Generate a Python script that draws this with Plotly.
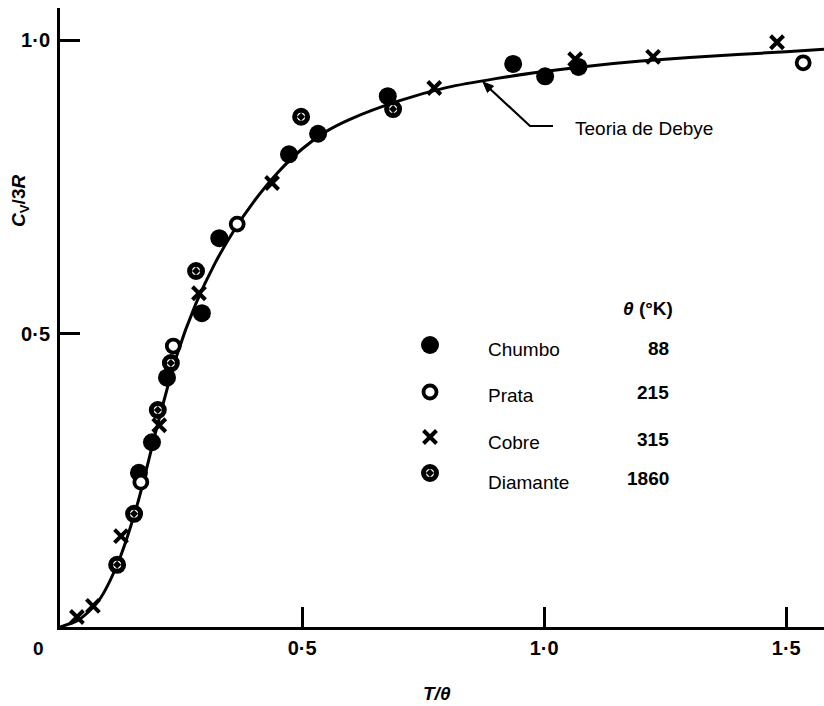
import plotly.graph_objects as go

# ---- data ----
curve_x = [0, 0.04, 0.08, 0.12, 0.16, 0.2, 0.24, 0.28, 0.32, 0.36, 0.4, 0.45, 0.5, 0.55,
           0.6, 0.7, 0.8, 0.9, 1.0, 1.1, 1.2, 1.3, 1.4, 1.5, 1.578]
curve_y = [0, 0.013, 0.045, 0.11, 0.21, 0.34, 0.46, 0.55, 0.62, 0.677, 0.725, 0.775, 0.815, 0.845,
           0.866, 0.897, 0.92, 0.935, 0.947, 0.957, 0.965, 0.971, 0.976, 0.981, 0.985]

chumbo_x = [0.163, 0.190, 0.221, 0.293, 0.329, 0.473, 0.533, 0.677, 0.936, 1.002, 1.071]
chumbo_y = [0.263, 0.315, 0.425, 0.535, 0.663, 0.806, 0.841, 0.905, 0.960, 0.939, 0.955]

prata_x = [0.167, 0.234, 0.366, 1.535]
prata_y = [0.247, 0.479, 0.687, 0.962]

cobre_x = [0.035, 0.068, 0.126, 0.205, 0.287, 0.438, 0.773, 1.064, 1.225, 1.481]
cobre_y = [0.017, 0.036, 0.155, 0.344, 0.569, 0.757, 0.919, 0.968, 0.972, 0.997]

diamante_x = [0.118, 0.153, 0.202, 0.229, 0.281, 0.498, 0.688]
diamante_y = [0.106, 0.193, 0.370, 0.450, 0.607, 0.870, 0.883]

x_ticks = [0.5, 1.0, 1.5]
x_tick_text = ["0·5", "1·0", "1·5"]
y_ticks = [0.5, 1.0]
y_tick_text = ["0·5", "1·0"]

legend_names = ["Chumbo", "Prata", "Cobre", "Diamante"]
legend_theta = ["88", "215", "315", "1860"]

FONT = "Liberation Sans, Arial, sans-serif"

fig = go.Figure()

fig.add_trace(go.Scatter(x=curve_x, y=curve_y, mode="lines",
                         line=dict(color="black", width=3, shape="spline", smoothing=0.8),
                         hoverinfo="skip", showlegend=False, cliponaxis=False))

# styles
st_chumbo = dict(symbol="circle", size=18, color="black", line=dict(width=0))
st_prata = dict(symbol="circle", size=13, color="white", line=dict(color="black", width=3.8))
st_cobre = dict(symbol="x-thin", size=13, color="black", line=dict(color="black", width=4))
st_diam = dict(symbol="circle-dot", size=13, color="white", line=dict(color="black", width=5))

for xs, ys, st in [(chumbo_x, chumbo_y, st_chumbo), (prata_x, prata_y, st_prata),
                   (cobre_x, cobre_y, st_cobre), (diamante_x, diamante_y, st_diam)]:
    fig.add_trace(go.Scatter(x=xs, y=ys, mode="markers", marker=st,
                             showlegend=False, cliponaxis=False))

# legend in a pixel-aligned overlay axis
leg_sym_x = 430
leg_row_y = [345, 392, 437, 473]
leg_text_y = [349, 395, 442, 482]
leg_val_y = [348, 392, 439, 478]
for st, yy in zip([st_chumbo, st_prata, st_cobre, st_diam], leg_row_y):
    fig.add_trace(go.Scatter(x=[leg_sym_x], y=[yy], mode="markers", marker=st,
                             xaxis="x2", yaxis="y2", showlegend=False, cliponaxis=False,
                             hoverinfo="skip"))

annots = []
for name, val, ty, vy in zip(legend_names, legend_theta, leg_text_y, leg_val_y):
    annots.append(dict(x=486, y=ty, xref="x2", yref="y2", text=name, showarrow=False,
                       xanchor="left", yanchor="middle", font=dict(family=FONT, size=19, color="black")))
    annots.append(dict(x=671, y=vy, xref="x2", yref="y2", text="<b>%s</b>" % val, showarrow=False,
                       xanchor="right", yanchor="middle", font=dict(family=FONT, size=19, color="black")))
annots.append(dict(x=675, y=308, xref="x2", yref="y2", text="<b><i>θ</i> (°K)</b>", showarrow=False,
                   xanchor="right", yanchor="middle", font=dict(family=FONT, size=19, color="black")))

# Debye label
annots.append(dict(x=573, y=128, xref="x2", yref="y2", text="Teoria de Debye", showarrow=False,
                   xanchor="left", yanchor="middle", font=dict(family=FONT, size=19, color="black")))

# corner zero, axis titles (paper coordinates; plot area spans px 60..824 x 8..627)
def px_to_paper(px, py):
    return (px - 60) / 764.0, (627 - py) / 619.0

cx, cy = px_to_paper(38, 648)
annots.append(dict(x=cx, y=cy, xref="paper", yref="paper", text="<b>0</b>", showarrow=False,
                   xanchor="center", yanchor="middle", font=dict(family=FONT, size=19, color="black")))
tx, ty = px_to_paper(437, 693)
annots.append(dict(x=tx, y=ty, xref="paper", yref="paper", text="<b><i>T/θ</i></b>", showarrow=False,
                   xanchor="center", yanchor="middle", font=dict(family=FONT, size=19, color="black")))
vx, vy = px_to_paper(20, 201)
annots.append(dict(x=vx, y=vy, xref="paper", yref="paper", text="<b><i>C</i><sub>V</sub>/3<i>R</i></b>",
                   showarrow=False, textangle=-90, xanchor="center", yanchor="middle",
                   font=dict(family=FONT, size=19, color="black")))

# leader line and arrowhead for the Debye label (pixel-aligned overlay axis)
shapes = [
    dict(type="path", xref="x2", yref="y2", path="M 553 126 L 530 126 L 488 87",
         line=dict(color="black", width=2.2)),
    dict(type="path", xref="x2", yref="y2", path="M 483 82 L 493.5 86 L 487.5 92.5 Z",
         fillcolor="black", line=dict(color="black", width=1)),
]

fig.update_layout(
    width=824, height=706,
    margin=dict(l=60, r=0, t=8, b=79),
    paper_bgcolor="white", plot_bgcolor="white",
    showlegend=False,
    font=dict(family=FONT, color="black"),
    xaxis=dict(range=[0, 1.578], showgrid=False, zeroline=False, showline=True, linecolor="black",
               linewidth=3, ticks="inside", ticklen=20, tickwidth=2.5, tickcolor="black",
               tickvals=x_ticks, ticktext=["<b>%s</b>" % t for t in x_tick_text],
               tickfont=dict(family=FONT, size=20, color="black"), ticklabelstandoff=1),
    yaxis=dict(range=[0, 1.0554], showgrid=False, zeroline=False, showline=True, linecolor="black",
               linewidth=3, ticks="inside", ticklen=20, tickwidth=2.5, tickcolor="black",
               tickvals=y_ticks, ticktext=["<b>%s</b>" % t for t in y_tick_text],
               tickfont=dict(family=FONT, size=20, color="black"), ticklabelstandoff=3),
    xaxis2=dict(range=[60, 824], overlaying="x", visible=False, fixedrange=True),
    yaxis2=dict(range=[627, 8], overlaying="y", visible=False, fixedrange=True),
    annotations=annots,
    shapes=shapes,
)

fig.write_html("out.html")
